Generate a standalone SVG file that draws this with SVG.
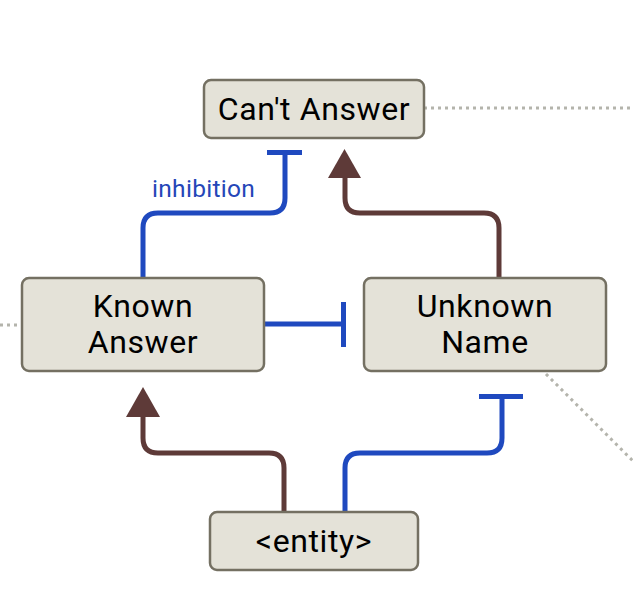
<svg xmlns="http://www.w3.org/2000/svg" width="633" height="609" viewBox="0 0 633 609">
<style>
.node rect{fill:#e4e2d8;stroke:#747062;stroke-width:2.5}
.node text{font-family:Roboto,"Liberation Sans",sans-serif;font-size:32px;letter-spacing:0.6px;fill:#000;text-anchor:middle}
.dot{stroke:#b4b4ac;stroke-width:3;stroke-dasharray:3 4;fill:none}
.act{stroke:#5e3a38;stroke-width:5;fill:none}
.inh{stroke:#1f49bf;stroke-width:5;fill:none}
.lbl{font-family:Roboto,"Liberation Sans",sans-serif;font-size:24.5px;letter-spacing:0.3px;fill:#2546b8}
</style>
<g id="connectors">
<line class="dot" x1="424" y1="108" x2="633" y2="108"/>
<line class="dot" x1="0" y1="325" x2="22" y2="325"/>
<line class="dot" x1="546" y1="374" x2="633" y2="461"/>
<path class="inh" d="M143,278 V228 Q143,213 158,213 H270 Q285,213 285,198 V152"/>
<line class="inh" x1="267" y1="152.5" x2="302" y2="152.5"/>
<text class="lbl" x="152" y="197">inhibition</text>
<path class="act" d="M499,278 V228 Q499,213 484,213 H360 Q345,213 345,198 V176"/>
<polygon points="344.5,149 328,178 361,178" fill="#5e3a38"/>
<line class="inh" x1="264" y1="324" x2="343" y2="324"/>
<line class="inh" x1="343.5" y1="302" x2="343.5" y2="347"/>
<path class="act" d="M284,512 V468 Q284,453 269,453 H158 Q143,453 143,438 V414"/>
<polygon points="143,387 126,417 160,417" fill="#5e3a38"/>
<path class="inh" d="M345,512 V468 Q345,453 360,453 H487 Q502,453 502,438 V396"/>
<line class="inh" x1="479" y1="396.5" x2="523" y2="396.5"/>
</g>
<g id="cant-answer" class="node">
<rect x="204" y="80" width="220" height="58" rx="7"/>
<text x="314" y="120">Can't Answer</text>
</g>
<g id="known-answer" class="node">
<rect x="22" y="278" width="242" height="93" rx="7"/>
<text x="143" y="317">Known</text>
<text x="143" y="353">Answer</text>
</g>
<g id="unknown-name" class="node">
<rect x="364" y="278" width="242" height="93" rx="7"/>
<text x="485" y="317">Unknown</text>
<text x="485" y="353">Name</text>
</g>
<g id="entity" class="node">
<rect x="210" y="512" width="208" height="58" rx="7"/>
<text x="314" y="552">&lt;entity&gt;</text>
</g>
</svg>
